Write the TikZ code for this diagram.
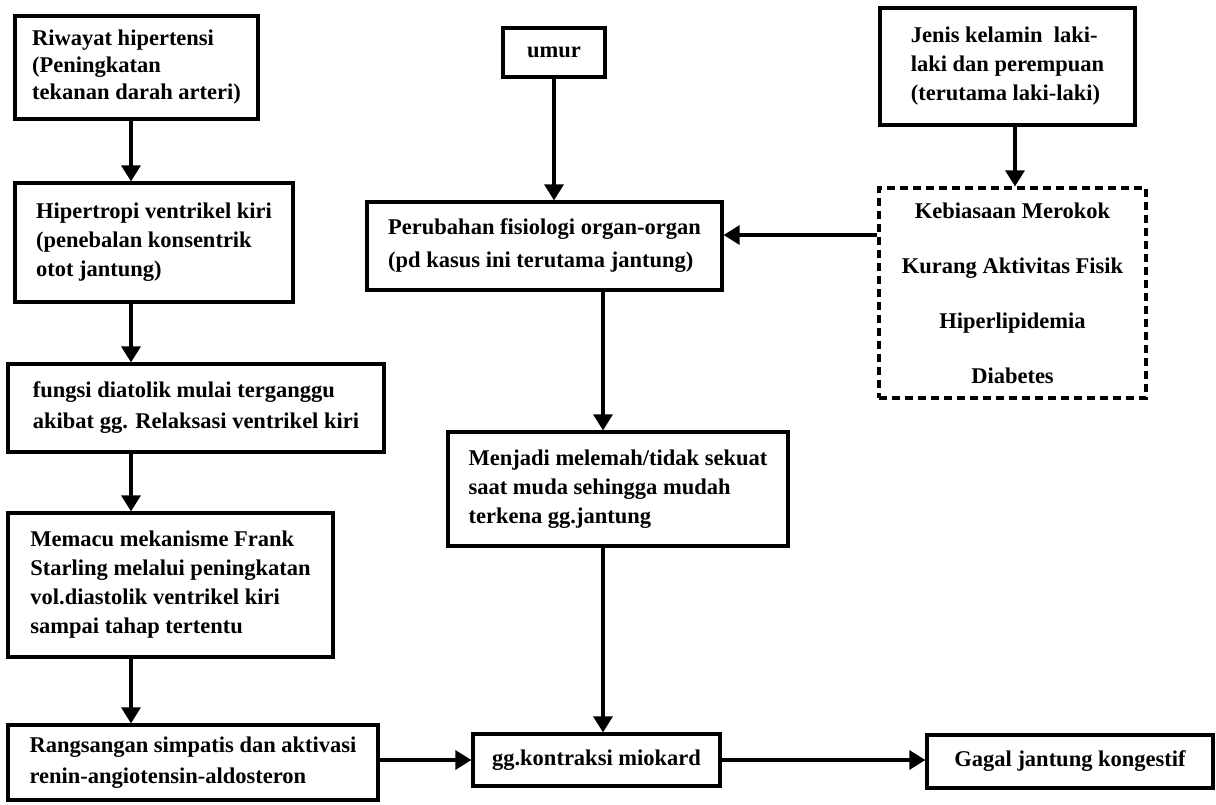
\documentclass[tikz,border=0pt]{standalone}
\usepackage{fontspec}
\setmainfont{Liberation Serif}
\usetikzlibrary{arrows.meta}
\tikzset{
  box/.style={draw, line width=3.2pt, align=left, inner sep=0pt,
    font=\fontsize{22.5}{29}\selectfont\bfseries},
  arr/.style={line width=3.2pt, -{Triangle[length=16pt,width=19pt]}},
}
\begin{document}
\begin{tikzpicture}[x=1pt,y=-1pt]
\useasboundingbox (0,0) rectangle (1216,804);
% left column
\node[box, minimum width=243pt, minimum height=103pt, font=\fontsize{22.5}{27}\selectfont\bfseries] (b1) at (136.5,67.5)
  {Riwayat hipertensi\\(Peningkatan\\tekanan darah arteri)};
\node[box, minimum width=278pt, minimum height=119pt] (b2) at (154,242.5)
  {Hipertropi ventrikel kiri\\(penebalan konsentrik\\otot jantung)};
\node[box, minimum width=376pt, minimum height=88pt, font=\fontsize{22.5}{31}\selectfont\bfseries] (b3) at (196,408)
  {fungsi diatolik mulai terganggu\\akibat gg. Relaksasi ventrikel kiri};
\node[box, minimum width=325pt, minimum height=144pt] (b4) at (170.5,585)
  {Memacu mekanisme Frank\\Starling melalui peningkatan\\vol.diastolik ventrikel kiri\\sampai tahap tertentu};
\node[box, minimum width=370pt, minimum height=75pt, font=\fontsize{22.5}{31}\selectfont\bfseries] (b5) at (193,762.5)
  {Rangsangan simpatis dan aktivasi\\renin-angiotensin-aldosteron};
% middle column
\node[box, align=center, minimum width=102pt, minimum height=49pt] (umur) at (554,52.5) {umur};
\node[box, minimum width=355pt, minimum height=88pt, font=\fontsize{22.5}{33}\selectfont\bfseries] (peru) at (544.5,246)
  {Perubahan fisiologi organ-organ\\(pd kasus ini terutama jantung)};
\node[box, minimum width=340pt, minimum height=114pt] (lemah) at (618,489)
  {Menjadi melemah/tidak sekuat\\saat muda sehingga mudah\\terkena gg.jantung};
\node[box, align=center, minimum width=247pt, minimum height=52pt] (gg) at (596.5,760) {gg.kontraksi miokard};
\node[box, align=center, minimum width=286pt, minimum height=53pt] (gagal) at (1070,761.5) {Gagal jantung kongestif};
% right column
\node[box, minimum width=255pt, minimum height=117pt] (jenis) at (1007.5,66.5)
  {Jenis kelamin\ \ laki-\\laki dan perempuan\\(terutama laki-laki)};
\node[box, dashed, dash pattern=on 8pt off 5pt, align=center, minimum width=267pt, minimum height=210pt] (risk) at (1012.5,293)
  {Kebiasaan Merokok\\[26pt]Kurang Aktivitas Fisik\\[26pt]Hiperlipidemia\\[26pt]Diabetes};
% guide coordinates
\coordinate (lx) at (131,0);
\coordinate (mx) at (603,0);
\coordinate (jx) at (1015,0);
\coordinate (hy) at (0,235);
% connectors
\draw[arr] (b1.south -| lx) -- (b2.north -| lx);
\draw[arr] (b2.south -| lx) -- (b3.north -| lx);
\draw[arr] (b3.south -| lx) -- (b4.north -| lx);
\draw[arr] (b4.south -| lx) -- (b5.north -| lx);
\draw[arr] (umur.south) -- (peru.north -| umur.south);
\draw[arr] (peru.south -| mx) -- (lemah.north -| mx);
\draw[arr] (lemah.south -| mx) -- (gg.north -| mx);
\draw[arr] (jenis.south -| jx) -- (risk.north -| jx);
\draw[arr] (risk.west |- hy) -- (peru.east |- hy);
\draw[arr] (b5.east |- gg.west) -- (gg.west);
\draw[arr] (gg.east) -- (gagal.west |- gg.east);
\end{tikzpicture}
\end{document}
